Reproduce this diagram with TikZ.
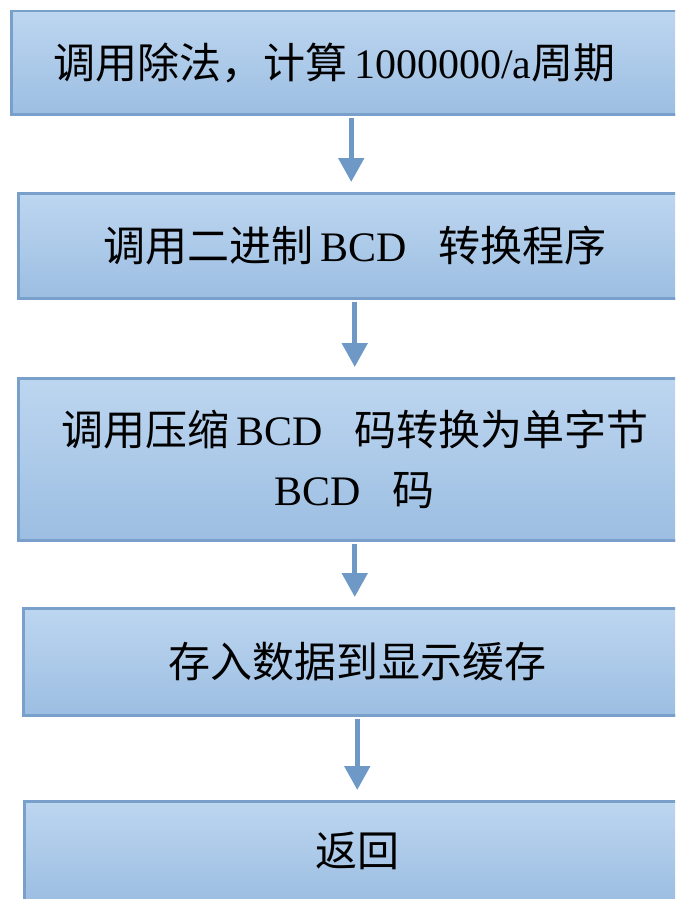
\documentclass[tikz,border=0pt]{standalone}
\usepackage{fontspec}
\setmainfont{Liberation Serif}
\newfontfamily\cjkf{Noto Sans CJK SC}
\usetikzlibrary{arrows.meta}
\definecolor{boxtop}{RGB}{189,214,240}
\definecolor{boxbot}{RGB}{156,190,226}
\definecolor{boxedge}{RGB}{120,160,202}
\definecolor{shadowc}{RGB}{165,170,178}
\definecolor{arrowc}{RGB}{110,152,198}
\tikzset{
  box/.style={rectangle, anchor=north west, inner sep=0pt, top color=boxtop, bottom color=boxbot,
    draw=boxedge, line width=2.5pt, align=center, font=\fontsize{42}{60}\selectfont, text=black},
  shade/.style={draw=shadowc, line width=2pt},
  arr/.style={draw=arrowc, line width=5pt, -{Triangle[width=25pt,length=24pt]}, shorten >=10pt, shorten <=2pt}
}
\begin{document}
\begin{tikzpicture}[x=1pt,y=-1pt]
\useasboundingbox (0,0) rectangle (675,899);
\clip (0,0) rectangle (675,899);
\fill[white] (0,0) rectangle (675,899);
% shadows
\draw[shade] (12,115) -- (690,115);
\draw[shade] (19,299) -- (690,299);
\draw[shade] (19,541) -- (690,541);
\draw[shade] (24,716) -- (690,716);
% boxes
\node[box, minimum width=680pt, minimum height=103pt] (b1) at (10,10)
  {{\cjkf 调用除法，计算}\,1000000/a{\cjkf 周期}\hspace*{34pt}};
\node[box, minimum width=673pt, minimum height=105pt] (b2) at (17,192)
  {{\cjkf 调用二进制}\,BCD\hspace{32pt}{\cjkf 转换程序}};
\node[box, minimum width=673pt, minimum height=162pt] (b3) at (17,377)
  {{\cjkf 调用压缩}\,BCD\hspace{32pt}{\cjkf 码转换为单字节}\\BCD\hspace{32pt}{\cjkf 码}};
\node[box, minimum width=668pt, minimum height=107pt] (b4) at (22,607)
  {{\cjkf 存入数据到显示缓存}};
\node[box, minimum width=667pt, minimum height=100pt] (b5) at (23,800)
  {{\cjkf 返回}};
% arrows
\draw[arr] (b1.south) -- (b1.south |- b2.north);
\draw[arr] (b2.south) -- (b2.south |- b3.north);
\draw[arr] (b3.south) -- (b3.south |- b4.north);
\draw[arr] (b4.south) -- (b4.south |- b5.north);
\end{tikzpicture}
\end{document}
